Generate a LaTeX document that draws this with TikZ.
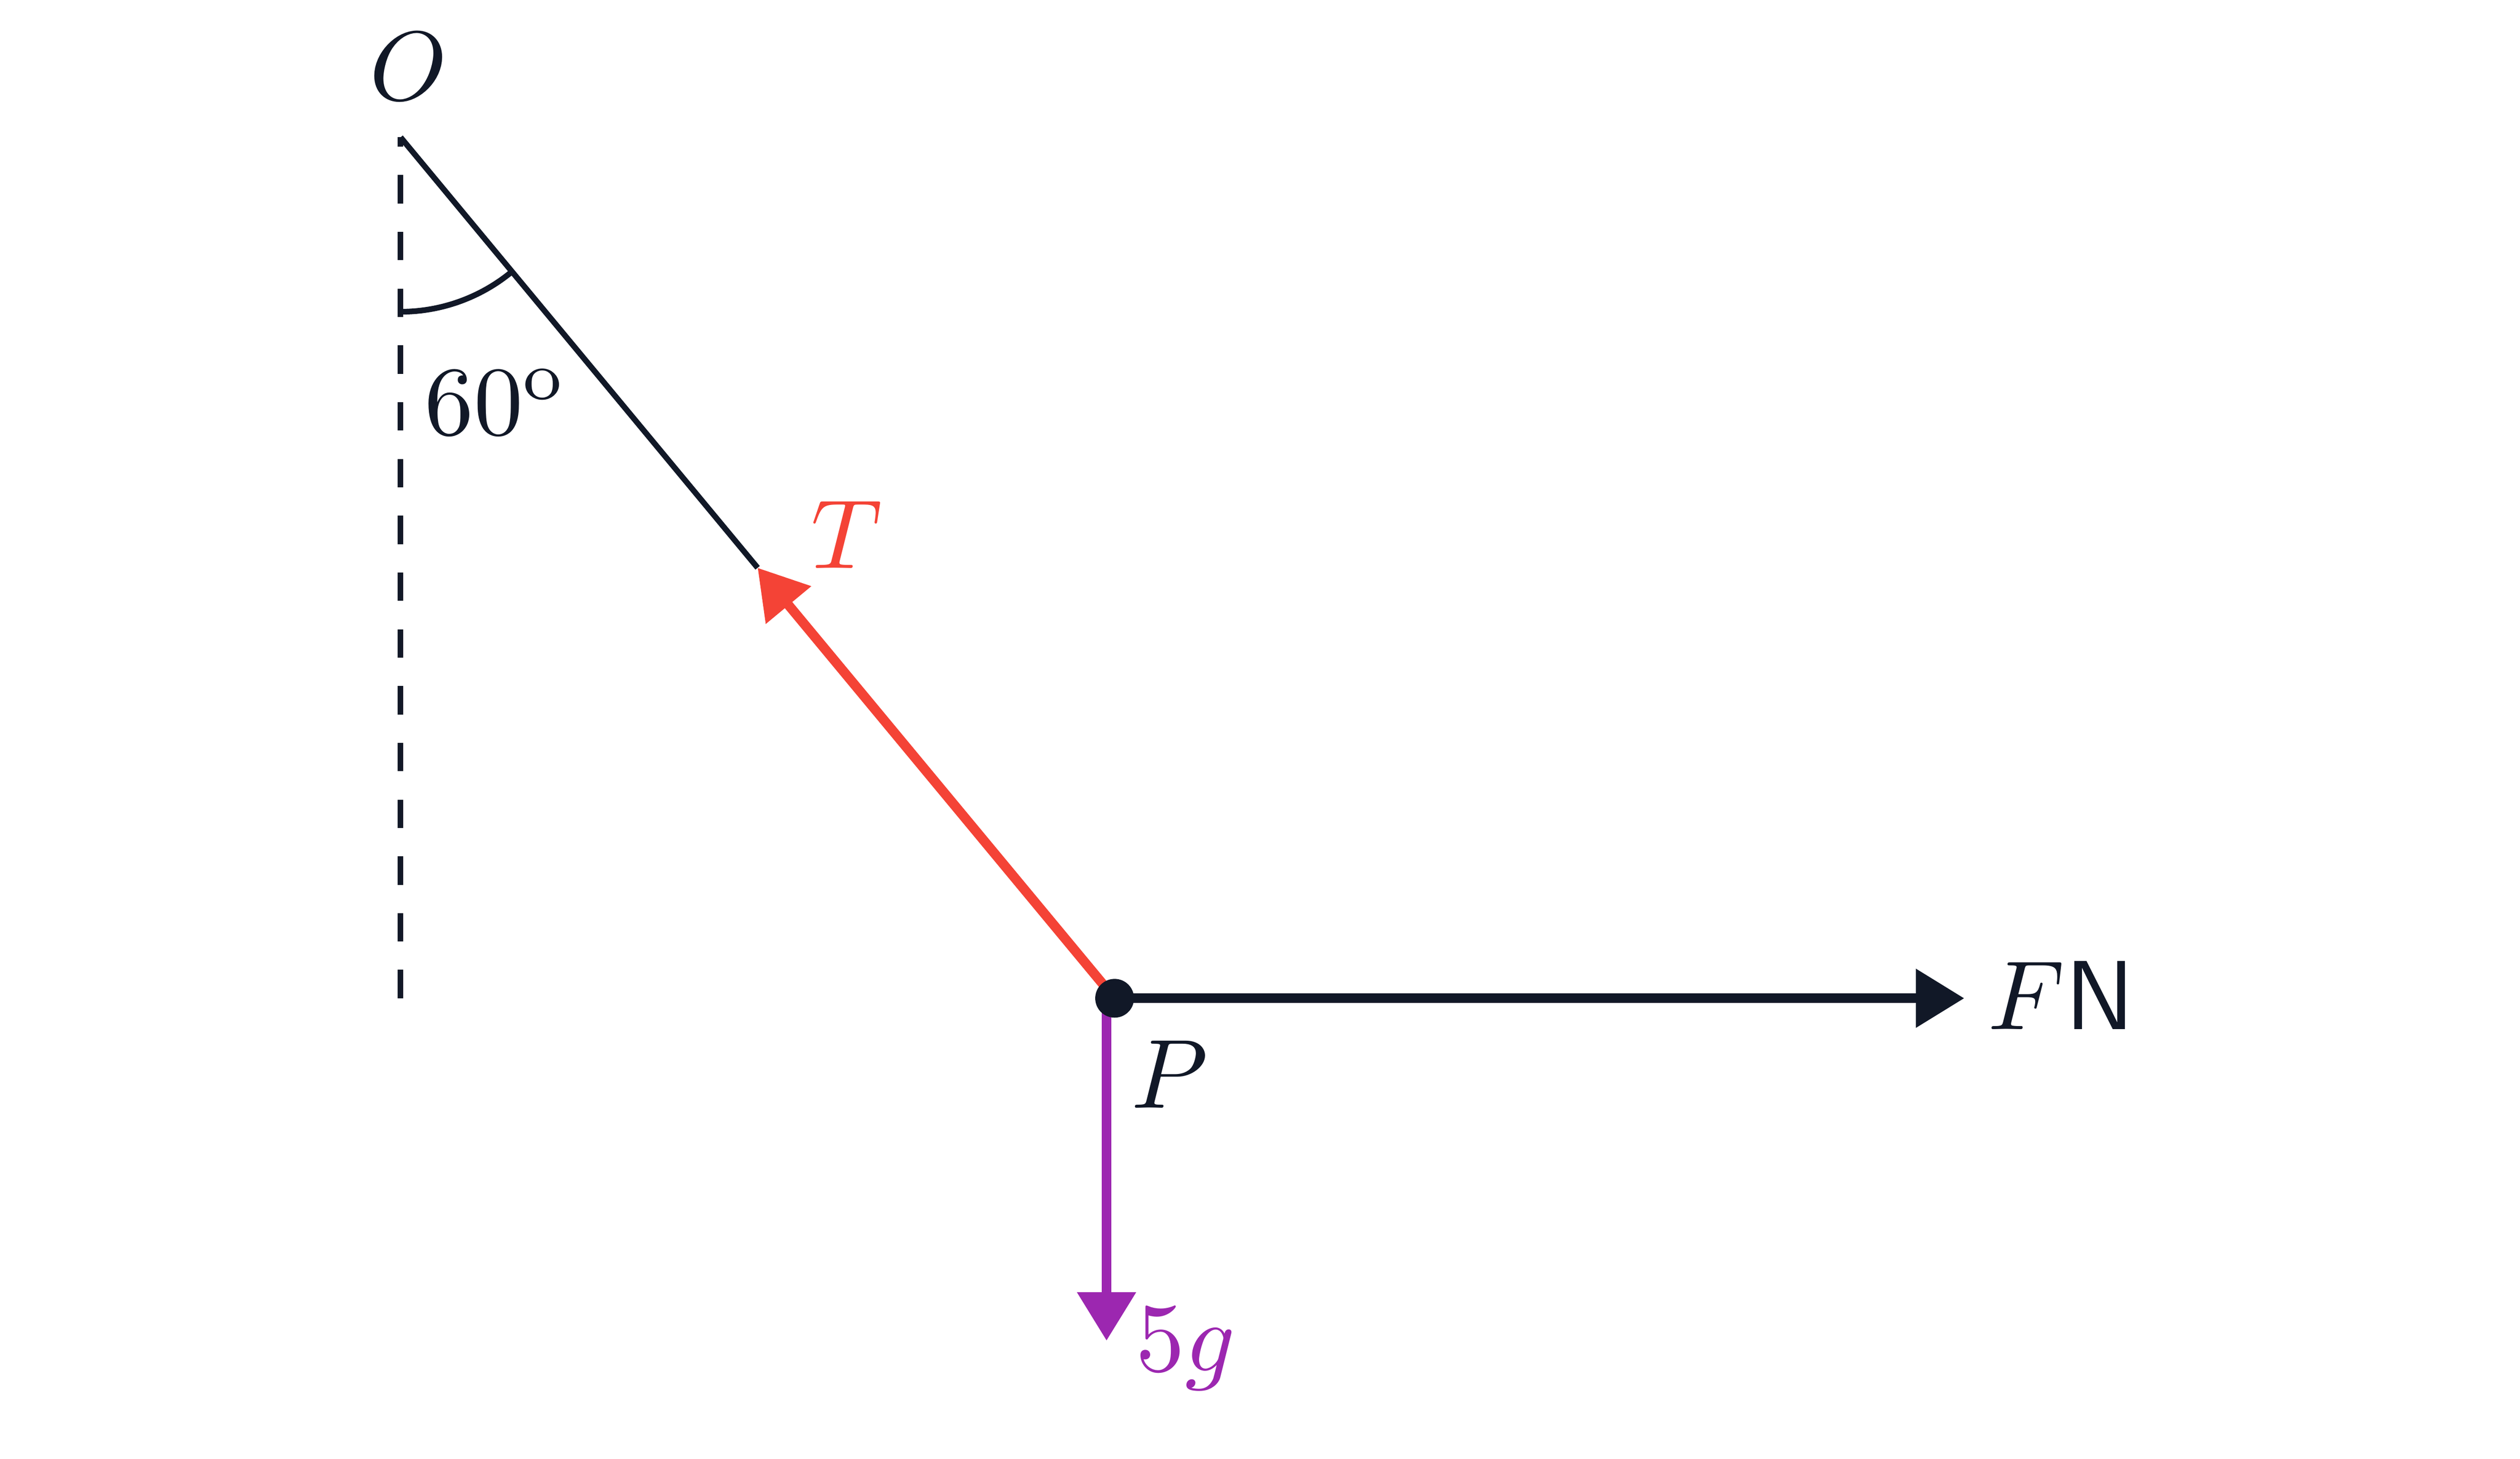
\documentclass[tikz,border=0pt]{standalone}
\usepackage{amsmath}
\usepackage{graphicx}
\usetikzlibrary{arrows.meta, positioning, calc}
\definecolor{inkdark}{RGB}{17, 24, 39}
\definecolor{tensred}{RGB}{244, 67, 54}
\definecolor{weightpurple}{RGB}{156, 39, 176}
\newcommand{\biglbl}[1]{\scalebox{1.73}{#1}}

\begin{document}
\begin{tikzpicture}[
  force/.style={line width=1.7pt, -{Triangle[length=0.30cm, width=0.35cm]}},
  thin/.style={draw=inkdark, line width=1pt},
  lbl/.style={inner sep=0pt}
]
  \useasboundingbox (-6.90, -2.85) rectangle (8.70, 6.18);
  \coordinate (P) at (0, 0);
  \coordinate (O) at (-4.42, 5.33);
  \coordinate (mid) at ($(O)!0.5!(P)$);
  \coordinate (base) at (-4.42, 0);
  \coordinate (Fend) at (5.26, 0);
  \coordinate (Wtop) at (-0.05, 0);
  \coordinate (Wend) at (-0.05, -2.12);

  % string and vertical
  \draw[thin, dash pattern=on 5pt off 5pt] (base) -- (O);
  \draw[thin] (O) -- (mid);
  \draw[thin] ($(O)+(0,-1.08)$) arc[start angle=-90, end angle=-50.33, radius=1.08];

  % forces on P
  \draw[force, tensred] (P) -- (mid);
  \draw[force, weightpurple] (Wtop) -- (Wend);
  \draw[force, inkdark] (P) -- (Fend);
  \fill[inkdark] (P) circle (0.12);

  % labels
  \node[lbl, text=inkdark] (Olbl) at (-4.37, 5.77) {\biglbl{$O$}};
  \node[lbl, text=inkdark] (anglbl) at (-3.83, 3.69) {\biglbl{$60^{\mathrm{o}}$}};
  \node[lbl, text=tensred] (Tlbl) at (-1.66, 2.87) {\biglbl{$T$}};
  \node[lbl, text=inkdark] (Plbl) at (0.34, -0.47) {\biglbl{$P$}};
  \node[lbl, text=inkdark] (Flbl) at (5.86, 0.02) {\biglbl{$F$\textsf{N}}};
  \node[lbl, text=weightpurple] (Wlbl) at (0.44, -2.17) {\biglbl{$5g$}};
\end{tikzpicture}
\end{document}
